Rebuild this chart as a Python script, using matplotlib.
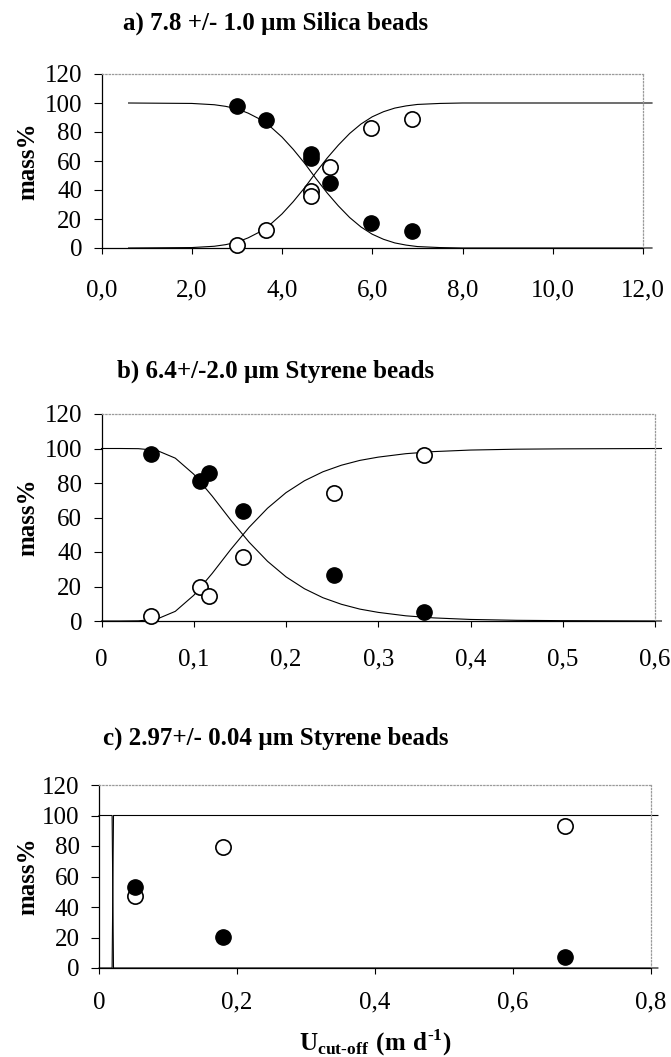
import numpy as np
import matplotlib
matplotlib.use('Agg')
import matplotlib.pyplot as plt

plt.rcParams['font.family'] = ['Liberation Serif', 'DejaVu Serif']
plt.rcParams['mathtext.fontset'] = 'custom'
plt.rcParams['mathtext.rm'] = 'Liberation Serif:bold'
plt.rcParams['mathtext.bf'] = 'Liberation Serif:bold'

# panel a) silica beads
a_x = [3.0, 3.65, 4.65, 4.65, 5.07, 5.97, 6.88]
a_filled = [98, 88, 65, 62, 45, 17, 12]
a_open = [2, 12.5, 39, 36, 56, 83, 89]
a_curve_x = [0.6, 2.0, 2.5, 2.75, 3.0, 3.25, 3.5, 3.75, 4.0, 4.25, 4.5, 4.75, 5.0,
             5.25, 5.5, 5.75, 6.0, 6.25, 6.5, 6.75, 7.0, 7.5, 8.0, 9.0, 12.2]
a_curve_open = [0, 0.3, 1.2, 2.3, 4.0, 7.0, 11.0, 16.5, 23.5, 32.0, 41.5, 52, 62,
                71, 79, 85.5, 90.5, 94, 96.5, 98, 99, 99.7, 100, 100, 100]
a_curve_filled = [100, 99.7, 98.8, 97.7, 96, 93, 89, 83.5, 76.5, 68, 58.5, 48, 38,
                  29, 21, 14.5, 9.5, 6, 3.5, 2, 1, 0.3, 0, 0, 0]
a_ticks = [0, 2, 4, 6, 8, 10, 12]
a_labels = ['0,0', '2,0', '4,0', '6,0', '8,0', '10,0', '12,0']

# panel b) 6.4 um styrene beads
b_x = [0.054, 0.107, 0.116, 0.153, 0.252, 0.35]
b_filled = [97, 81, 86, 64, 26.5, 5]
b_open = [3, 19.5, 14.5, 37, 74, 96]
b_curve_x = [0, 0.02, 0.04, 0.06, 0.08, 0.10, 0.12, 0.14, 0.16, 0.18, 0.20, 0.22,
             0.24, 0.26, 0.28, 0.30, 0.33, 0.36, 0.40, 0.45, 0.50, 0.607]
b_curve_open = [0, 0, 0.1, 1.1, 5.6, 14.9, 27.6, 41.4, 54.3, 65.4, 74.4, 81.3,
                86.5, 90.3, 93.1, 95.0, 97.0, 98.2, 99.1, 99.6, 99.8, 100]
b_curve_filled = [100, 100, 99.9, 98.9, 94.4, 85.1, 72.4, 58.6, 45.7, 34.6, 25.6, 18.7,
                  13.5, 9.7, 6.9, 5.0, 3.0, 1.8, 0.9, 0.4, 0.2, 0]
b_ticks = [0, 0.1, 0.2, 0.3, 0.4, 0.5, 0.6]
b_labels = ['0', '0,1', '0,2', '0,3', '0,4', '0,5', '0,6']

# panel c) 2.97 um styrene beads
c_x = [0.052, 0.179, 0.675]
c_filled = [53, 20.5, 7.5]
c_open = [47.5, 79.5, 93]
c_curve_x = [0, 0.019, 0.021, 0.81]
c_curve_filled = [100, 100, 0, 0]
c_curve_open = [0, 0, 100, 100]
c_ticks = [0, 0.2, 0.4, 0.6, 0.8]
c_labels = ['0', '0,2', '0,4', '0,6', '0,8']

y_ticks = [0, 20, 40, 60, 80, 100, 120]

fig = plt.figure(figsize=(6.71, 10.57), dpi=100)

W, H = 671.0, 1057.0
def box(l, r, t, b):
    return [l / W, 1 - b / H, (r - l) / W, (b - t) / H]

panels = [
    (box(101.5, 643, 74, 248), a_x, a_filled, a_open, a_curve_x, a_curve_filled, a_curve_open,
     (0, 12), a_ticks, a_labels, 'a) 7.8 +/- 1.0 \u00b5m Silica beads', 23, 19),
    (box(101.5, 655, 414, 621), b_x, b_filled, b_open, b_curve_x, b_curve_filled, b_curve_open,
     (0, 0.6), b_ticks, b_labels, 'b) 6.4+/-2.0 \u00b5m Styrene beads', 371, 16),
    (box(99, 651, 785, 968), c_x, c_filled, c_open, c_curve_x, c_curve_filled, c_curve_open,
     (0, 0.8), c_ticks, c_labels, 'c) 2.97+/- 0.04 \u00b5m Styrene beads', 738, 13),
]

for rect, px, pf, po, cx, cf, co, xlim, xt, xl, title, ty, pad in panels:
    ax = fig.add_axes(rect)
    ax.plot(cx, cf, color='black', lw=0.8, clip_on=False, zorder=2)
    ax.plot(cx, co, color='black', lw=0.8, clip_on=False, zorder=2)
    ax.plot(px, po, 'o', ms=11, mfc='white', mec='black', mew=1.2, clip_on=False, zorder=3)
    ax.plot(px, pf, 'o', ms=11, mfc='black', mec='black', clip_on=False, zorder=4)
    ax.set_xlim(*xlim)
    ax.set_ylim(0, 120)
    ax.set_yticks(y_ticks)
    ax.set_xticks(xt)
    ax.set_xticklabels(xl)
    ax.tick_params(axis='y', direction='out', length=6, width=0.8, pad=8, labelsize=18)
    ax.tick_params(axis='x', direction='out', length=4, width=0.8, pad=pad, labelsize=18)
    for s in ['top', 'right']:
        ax.spines[s].set_color('#9a9a9a')
        ax.spines[s].set_linestyle(':')
        ax.spines[s].set_linewidth(0.9)
    for s in ['left', 'bottom']:
        ax.spines[s].set_color('black')
        ax.spines[s].set_linewidth(0.9)
    ax.set_ylabel('mass%', fontsize=18, fontweight='bold', va='center')
    l = rect[0] * W
    w = rect[2] * W
    ax.yaxis.set_label_coords((28 - l) / w, 0.5)
    fig.text(276 / W, 1 - ty / H, title, ha='center', va='center',
             fontsize=18, fontweight='bold')

fig.text(375 / W, 1 - 1043 / H,
         r'$\mathbf{U}_{\mathbf{cut}\text{-}\mathbf{off}}\ \mathbf{(m\ d}^{\text{-}\mathbf{1}}\mathbf{)}$',
         ha='center', va='center', fontsize=18)

fig.savefig('out.png', dpi=100)
